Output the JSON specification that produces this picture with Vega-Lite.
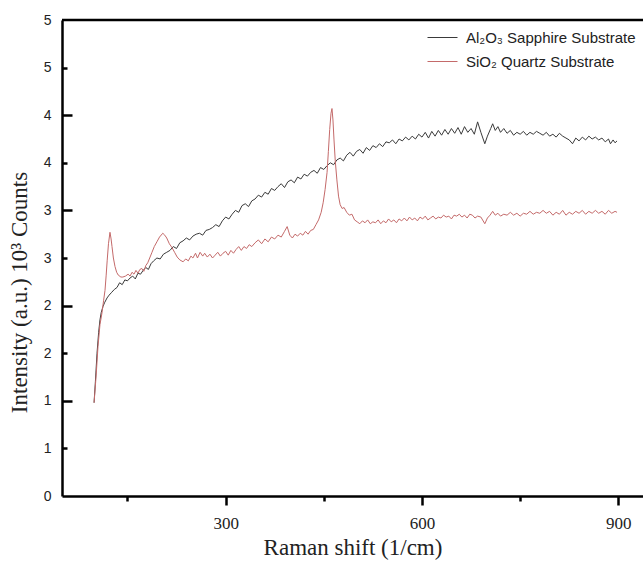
{
  "$schema": "https://vega.github.io/schema/vega-lite/v6.json",
  "width": 581,
  "height": 476,
  "autosize": {"type": "none"},
  "padding": {"left": 62, "top": 20, "right": 0, "bottom": 72},
  "background": "white",
  "config": {"view": {"stroke": null}},
  "resolve": {"scale": {"y": "shared", "x": "shared"}, "axis": {"y": "independent"}},
  "datasets": {
    "al": [
      [99,0.98],[101,1.20],[103.5,1.50],[106,1.72],[108,1.85],[110,1.93],[112.6,1.99],[115,2.03],[118.8,2.08],[122,2.11],[126,2.14],[130,2.17],[134,2.19],[138,2.24],[142,2.22],[146,2.27],[150,2.26],[154,2.29],[158,2.31],[162,2.28],[166,2.34],[170,2.33],[174,2.37],[178,2.40],[182,2.38],[186,2.44],[190,2.47],[195,2.50],[200,2.49],[205,2.54],[210,2.56],[215,2.58],[220,2.62],[225,2.60],[230,2.66],[235,2.68],[240,2.71],[245,2.69],[250,2.73],[255,2.75],[260,2.76],[265,2.74],[270,2.79],[275,2.80],[280,2.82],[285,2.85],[290,2.83],[295,2.89],[300,2.93],[305,2.91],[310,2.96],[315,3.00],[320,2.98],[325,3.05],[330,3.07],[335,3.04],[340,3.10],[345,3.12],[350,3.16],[355,3.14],[360,3.19],[365,3.17],[370,3.23],[375,3.21],[380,3.25],[385,3.28],[390,3.24],[395,3.30],[400,3.32],[405,3.29],[410,3.35],[415,3.33],[420,3.38],[425,3.36],[430,3.40],[435,3.42],[440,3.39],[445,3.45],[450,3.43],[455,3.47],[460,3.50],[465,3.48],[470,3.53],[475,3.55],[480,3.52],[485,3.58],[490,3.61],[495,3.57],[500,3.62],[505,3.64],[510,3.60],[515,3.66],[520,3.63],[525,3.68],[530,3.66],[535,3.70],[540,3.67],[545,3.72],[550,3.71],[555,3.74],[560,3.70],[565,3.75],[570,3.73],[575,3.77],[580,3.74],[585,3.78],[590,3.75],[595,3.80],[600,3.77],[605,3.82],[610,3.76],[615,3.83],[620,3.78],[625,3.84],[630,3.79],[635,3.85],[640,3.80],[645,3.86],[650,3.81],[655,3.87],[660,3.80],[665,3.88],[670,3.82],[675,3.86],[680,3.80],[685,3.93],[690,3.82],[696,3.70],[700,3.78],[705,3.86],[708,3.91],[712,3.84],[716,3.88],[720,3.82],[725,3.86],[730,3.81],[735,3.84],[740,3.79],[745,3.82],[750,3.80],[755,3.83],[760,3.79],[765,3.82],[770,3.80],[775,3.83],[780,3.81],[785,3.79],[790,3.82],[795,3.78],[800,3.80],[805,3.77],[810,3.81],[815,3.78],[820,3.76],[825,3.74],[830,3.70],[835,3.76],[840,3.73],[845,3.77],[850,3.74],[855,3.78],[860,3.75],[865,3.77],[870,3.74],[875,3.76],[880,3.72],[885,3.75],[888,3.70],[892,3.74],[895,3.71],[898,3.73]
    ],
    "si": [
      [99,0.98],[102,1.25],[105,1.57],[108,1.80],[111,1.92],[113.5,2.05],[115.7,2.16],[117.5,2.32],[119,2.47],[121,2.65],[123.3,2.77],[125,2.70],[126.4,2.62],[128.5,2.50],[131,2.41],[133.5,2.35],[136,2.32],[140,2.30],[143,2.30],[147,2.31],[151,2.33],[154,2.31],[157,2.35],[160,2.33],[163,2.37],[166,2.34],[169,2.38],[172,2.39],[175,2.36],[178,2.42],[181,2.45],[184,2.50],[187.5,2.56],[191,2.62],[195,2.67],[199,2.72],[204,2.76],[207,2.74],[210,2.71],[214,2.65],[218,2.61],[222,2.56],[226,2.51],[230,2.48],[235,2.46],[239,2.49],[243,2.47],[247,2.52],[250,2.50],[254,2.55],[257,2.50],[261,2.56],[265,2.52],[268,2.55],[272,2.51],[276,2.54],[280,2.50],[284,2.53],[288,2.56],[292,2.52],[296,2.55],[300,2.57],[304,2.53],[308,2.58],[312,2.55],[316,2.59],[320,2.62],[324,2.58],[328,2.62],[332,2.60],[336,2.64],[340,2.62],[345,2.66],[350,2.69],[355,2.65],[360,2.70],[365,2.67],[370,2.72],[375,2.70],[380,2.74],[385,2.72],[390,2.78],[394,2.83],[398,2.74],[402,2.71],[406,2.75],[410,2.73],[414,2.76],[418,2.74],[422,2.78],[426,2.75],[430,2.79],[434,2.80],[438,2.85],[442,2.90],[446,2.98],[449,3.08],[452,3.22],[455,3.40],[457,3.62],[459,3.85],[461,4.02],[462.5,4.07],[464,3.95],[465.6,3.74],[467.5,3.52],[470,3.32],[472.5,3.15],[475,3.06],[478,3.02],[481,3.03],[485,2.98],[489,2.95],[493,2.96],[497,2.90],[501,2.88],[505,2.86],[509,2.89],[513,2.87],[517,2.90],[521,2.86],[525,2.88],[529,2.87],[533,2.90],[537,2.86],[541,2.89],[545,2.87],[549,2.91],[553,2.88],[557,2.90],[561,2.87],[565,2.91],[569,2.89],[573,2.92],[577,2.89],[581,2.93],[585,2.90],[589,2.92],[593,2.89],[597,2.93],[601,2.91],[605,2.94],[609,2.90],[613,2.92],[617,2.94],[621,2.91],[625,2.93],[629,2.92],[633,2.95],[637,2.93],[641,2.94],[645,2.91],[649,2.95],[653,2.94],[657,2.96],[661,2.93],[665,2.95],[669,2.92],[673,2.96],[677,2.95],[681,2.92],[685,2.94],[690,2.93],[696,2.86],[700,2.92],[704,2.95],[708,2.99],[712,2.95],[716,2.97],[720,2.94],[725,2.96],[730,2.95],[735,2.98],[740,2.95],[745,2.97],[750,2.94],[755,2.97],[760,2.96],[765,2.99],[770,2.96],[775,2.98],[780,2.97],[785,3.00],[790,2.97],[795,2.99],[800,2.95],[805,2.98],[810,2.96],[815,3.00],[820,2.95],[825,2.98],[830,2.96],[835,2.99],[840,2.97],[845,3.00],[850,2.96],[855,2.99],[860,2.97],[865,3.00],[870,2.97],[875,2.99],[880,2.96],[885,3.00],[890,2.97],[895,2.99],[898,2.98]
    ]
  },
  "layer": [
    {
      "data": {"name": "al"},
      "transform": [
        {"calculate": "datum[0]", "as": "shift"},
        {"calculate": "datum[1]", "as": "intensity"},
        {"calculate": "'Al₂O₃ Sapphire Substrate'", "as": "series"}
      ],
      "mark": {"type": "line", "strokeWidth": 1, "interpolate": "linear"},
      "encoding": {
        "x": {
          "field": "shift",
          "type": "quantitative",
          "title": "Raman shift (1/cm)",
          "scale": {"domain": [50, 937.7], "nice": false, "zero": false},
          "axis": {
            "values": [150, 300, 450, 600, 750, 900],
            "labelExpr": "datum.value % 300 == 0 ? datum.label : ''",
            "grid": false,
            "domainColor": "black",
            "domainWidth": 2.5,
            "tickColor": "black",
            "tickWidth": 2.5,
            "tickSize": {"condition": {"test": "datum.value % 300 == 0", "value": 9}, "value": 5},
            "labelFont": "Liberation Serif",
            "labelFontSize": 17,
            "labelColor": "#222",
            "labelPadding": 10,
            "titleFont": "Liberation Serif",
            "titleFontSize": 23,
            "titleFontWeight": "normal",
            "titleColor": "#222",
            "titlePadding": 5
          }
        },
        "y": {
          "field": "intensity",
          "type": "quantitative",
          "title": "Intensity (a.u.) 10³ Counts",
          "scale": {"domain": [0, 5], "nice": false},
          "axis": {
            "orient": "left",
            "values": [0, 0.5, 1, 1.5, 2, 2.5, 3, 3.5, 4, 4.5, 5],
            "format": ".0f",
            "grid": false,
            "domainColor": "black",
            "domainWidth": 2.5,
            "tickSize": 0,
            "labelFont": "Liberation Sans",
            "labelFontSize": 14,
            "labelColor": "#222",
            "labelPadding": 11,
            "titleFont": "Liberation Serif",
            "titleFontSize": 23,
            "titleFontWeight": "normal",
            "titleColor": "#222",
            "titleX": -31,
            "titleY": 272
          }
        },
        "color": {
          "field": "series",
          "type": "nominal",
          "scale": {"domain": ["Al₂O₃ Sapphire Substrate", "SiO₂ Quartz Substrate"], "range": ["#3a3a3a", "#c46a6a"]},
          "legend": {
            "title": null,
            "orient": "none",
            "legendX": 365,
            "legendY": 2,
            "symbolType": "stroke",
            "symbolSize": 900,
            "symbolStrokeWidth": 1,
            "labelFont": "Liberation Sans",
            "labelFontSize": 15,
            "labelColor": "#222",
            "labelLimit": 400,
            "labelOffset": 8,
            "rowPadding": -5
          }
        }
      }
    },
    {
      "data": {"name": "si"},
      "transform": [
        {"calculate": "datum[0]", "as": "shift"},
        {"calculate": "datum[1]", "as": "intensity"},
        {"calculate": "'SiO₂ Quartz Substrate'", "as": "series"}
      ],
      "mark": {"type": "line", "strokeWidth": 1, "interpolate": "linear"},
      "encoding": {
        "x": {"field": "shift", "type": "quantitative"},
        "y": {
          "field": "intensity",
          "type": "quantitative",
          "axis": {
            "orient": "left",
            "offset": -10,
            "zindex": 2,
            "values": [1, 2, 3, 4],
            "ticks": true,
            "tickSize": 10,
            "tickWidth": 2.5,
            "tickColor": "black",
            "labels": false,
            "domain": false,
            "grid": false,
            "title": null
          }
        },
        "color": {"field": "series", "type": "nominal"}
      }
    },
    {
      "data": {"values": [{}]},
      "mark": {"type": "rule", "color": "black", "strokeWidth": 2.5},
      "encoding": {
        "y": {
          "datum": 5,
          "axis": {
            "orient": "left",
            "offset": -5,
            "zindex": 2,
            "values": [0.5, 1.5, 2.5, 3.5, 4.5],
            "ticks": true,
            "tickSize": 5,
            "tickWidth": 2.5,
            "tickColor": "black",
            "labels": false,
            "domain": false,
            "grid": false,
            "title": null
          }
        }
      }
    }
  ]
}
